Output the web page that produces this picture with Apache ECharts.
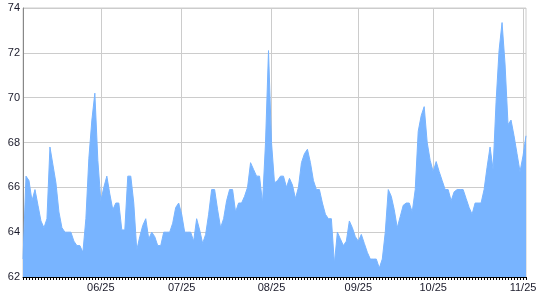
<!DOCTYPE html>
<html>
<head>
<meta charset="utf-8">
<script src="https://cdn.jsdelivr.net/npm/echarts@6/dist/echarts.min.js"></script>
<style>
html,body{margin:0;padding:0;background:#fff;}
#c{width:540px;height:300px;}
</style>
</head>
<body>
<div id="c"></div>
<script>
const dates = [
  "05/30","05/31",
  "06/01","06/02","06/03","06/04","06/05","06/06","06/07","06/08","06/09","06/10",
  "06/11","06/12","06/13","06/14","06/15","06/16","06/17","06/18","06/19","06/20",
  "06/21","06/22","06/23","06/24","06/25","06/26","06/27","06/28","06/29","06/30",
  "07/01","07/02","07/03","07/05","07/06","07/07","07/08","07/09","07/10","07/11",
  "07/13","07/14","07/15","07/16","07/17","07/18","07/19","07/21","07/22","07/23",
  "07/24","07/25","07/26","07/27","07/28","07/29","07/30","07/31",
  "08/01","08/02","08/03","08/04","08/05","08/06","08/07","08/08","08/09","08/11",
  "08/12","08/13","08/14","08/15","08/16","08/17","08/18","08/19","08/20","08/21",
  "08/22","08/23","08/24","08/25","08/26","08/27","08/28","08/29","08/30","08/31",
  "09/01","09/03","09/04","09/05","09/06","09/07","09/08","09/09","09/10","09/11",
  "09/12","09/13","09/15","09/16","09/17","09/18","09/19","09/20","09/21","09/22",
  "09/23","09/24","09/25","09/26","09/27","09/28","09/29","09/30",
  "10/03","10/04","10/05","10/06","10/07","10/09","10/10","10/11","10/12","10/13",
  "10/15","10/16","10/17","10/18","10/19","10/21","10/22","10/23","10/24","10/25",
  "10/26","10/27","10/28","10/29","10/30","10/31",
  "11/01","11/02","11/03","11/04","11/05","11/06","11/07","11/08","11/09","11/11",
  "11/12","11/13","11/14","11/15","11/16","11/17","11/18","11/19","11/20","11/21",
  "11/22","11/23","11/24","11/25","11/26"
];
const values = [
  62.8, 66.5, 66.3, 65.4, 65.9, 65.2, 64.5, 64.2, 64.6, 67.8,
  67.0, 66.2, 64.9, 64.2, 64.0, 64.0, 64.0, 63.6, 63.4, 63.4,
  63.1, 64.6, 67.3, 69.0, 70.2, 67.2, 65.4, 66.0, 66.5, 65.7,
  65.0, 65.3, 65.3, 64.1, 64.1, 66.5, 66.5, 65.3, 63.2, 63.8,
  64.3, 64.6, 63.7, 64.0, 63.8, 63.4, 63.4, 64.0, 64.0, 64.0,
  64.4, 65.1, 65.3, 64.8, 64.0, 64.0, 64.0, 63.6, 64.6, 64.1,
  63.5, 63.9, 64.8, 65.9, 65.9, 65.0, 64.2, 64.6, 65.4, 65.9,
  65.9, 64.9, 65.3, 65.3, 65.6, 66.0, 67.1, 66.8, 66.5, 66.5,
  65.3, 68.0, 72.1, 68.0, 66.2, 66.3, 66.5, 66.5, 66.0, 66.4,
  66.1, 65.5, 66.0, 67.1, 67.5, 67.7, 67.1, 66.3, 65.9, 65.9,
  65.3, 64.8, 64.6, 64.6, 62.6, 64.0, 63.7, 63.4, 63.6, 64.5,
  64.2, 63.8, 63.6, 63.9, 63.5, 63.1, 62.8, 62.8, 62.8, 62.4,
  62.8, 64.0, 65.9, 65.6, 65.0, 64.2, 64.7, 65.2, 65.3, 65.3,
  64.9, 65.9, 68.5, 69.2, 69.6, 68.0, 67.2, 66.7, 67.15, 66.7,
  66.3, 65.9, 65.9, 65.4, 65.8, 65.9, 65.9, 65.9, 65.5, 65.1,
  64.8, 65.3, 65.3, 65.3, 65.9, 66.9, 67.8, 66.8, 69.8, 72.1,
  73.35, 71.5, 68.8, 69.0, 68.3, 67.5, 66.7, 67.4, 68.3
];
const yTicks = [62, 64, 66, 68, 70, 72, 74];

const isLabel = (i, v) => v.slice(3) === "25";
const chart = echarts.init(document.getElementById('c'), null, {renderer: 'canvas'});
chart.setOption({
  animation: false,
  grid: {left: 23, right: 14, top: 8, bottom: 23, show: true, borderColor: '#cccccc', borderWidth: 1, backgroundColor: 'transparent'},
  xAxis: {
    type: 'category',
    data: dates,
    boundaryGap: false,
    axisLine: {show: true, lineStyle: {color: '#000', width: 1}},
    axisTick: {show: true, interval: 0, length: 3, lineStyle: {color: '#000'}},
    axisLabel: {interval: isLabel, color: '#1a1a2a', fontFamily: 'Liberation Sans', fontSize: 11, margin: 5},
    splitLine: {show: true, interval: isLabel, lineStyle: {color: '#cccccc', width: 1}}
  },
  yAxis: {
    type: 'value',
    min: yTicks[0],
    max: yTicks[yTicks.length - 1],
    interval: 2,
    axisLine: {show: true, lineStyle: {color: '#888888'}},
    axisTick: {show: false},
    axisLabel: {color: '#1a1a2a', fontFamily: 'Liberation Sans', fontSize: 11, margin: 3},
    splitLine: {show: true, lineStyle: {color: '#cccccc', width: 1}}
  },
  series: [{
    type: 'line',
    data: values,
    showSymbol: false,
    symbol: 'none',
    lineStyle: {color: '#78b4ff', width: 1},
    areaStyle: {color: '#78b4ff', opacity: 1, origin: 'start'},
    itemStyle: {color: '#78b4ff'}
  }]
});
</script>
</body>
</html>
